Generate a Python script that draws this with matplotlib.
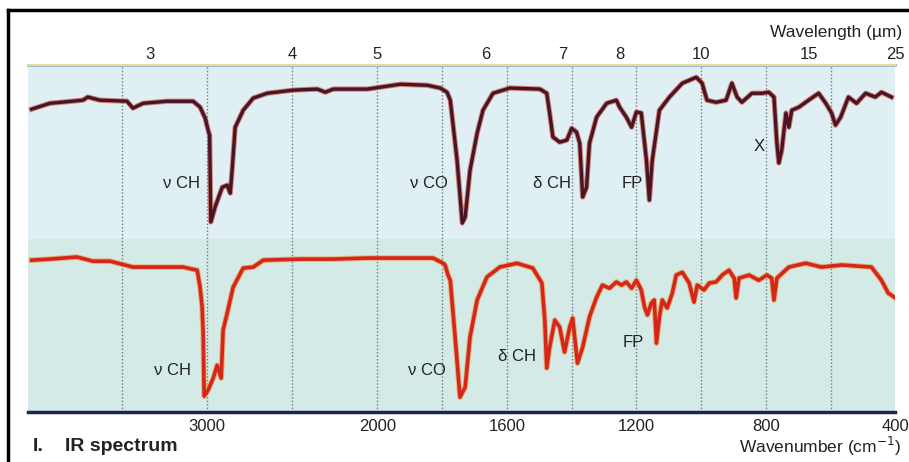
import matplotlib.pyplot as plt
import numpy as np

# upper spectrum (dark trace): wavenumber (cm-1) and offset transmittance
upper_wn = [4030, 3923, 3729, 3700, 3629, 3470, 3435, 3376, 3235, 3082, 3041, 3011, 2994, 2985,
            2978, 2953, 2911, 2882, 2864, 2853, 2835, 2788, 2729, 2647, 2494, 2353, 2306, 2259,
            2059, 1929, 1846, 1806, 1785, 1775, 1754, 1738, 1729, 1714, 1692, 1674, 1643, 1591,
            1498, 1477, 1468, 1458, 1437, 1415, 1400, 1385, 1375, 1366, 1354, 1345, 1323, 1292,
            1262, 1252, 1231, 1215, 1200, 1185, 1169, 1160, 1151, 1129, 1098, 1058, 1015, 997,
            982, 954, 923, 905, 889, 874, 843, 812, 791, 775, 766, 760, 751, 738, 729, 720,
            698, 668, 637, 615, 597, 585, 569, 545, 520, 492, 462, 443, 412]
upper_t = [87.3, 89.0, 89.9, 90.8, 89.9, 89.6, 87.6, 89.0, 89.6, 89.6, 87.9, 84.7, 81.3, 79.8,
           54.8, 59.1, 64.8, 65.4, 63.1, 69.7, 82.1, 87.0, 90.5, 91.9, 92.8, 93.1, 92.2, 93.1,
           93.1, 94.5, 94.2, 93.4, 92.2, 89.9, 72.6, 54.5, 56.2, 69.7, 80.4, 87.0, 91.9, 93.4,
           93.1, 91.9, 86.2, 79.3, 77.8, 78.4, 81.8, 80.7, 77.5, 62.0, 64.8, 77.5, 85.0, 89.0,
           89.9, 87.9, 85.0, 82.1, 86.5, 86.2, 72.6, 61.1, 72.6, 87.0, 90.8, 94.8, 96.5, 94.8,
           89.9, 89.3, 89.9, 94.8, 90.8, 89.3, 91.9, 91.9, 92.2, 90.8, 77.5, 71.8, 75.5, 86.2, 82.1, 87.0,
           87.9, 89.9, 91.9, 89.0, 86.2, 82.7, 85.0, 90.8, 89.0, 91.9, 90.8, 92.2, 90.8]

# lower spectrum (red trace)
lower_wn = [4030, 3923, 3764, 3670, 3570, 3435, 3335, 3141, 3058, 3041, 3029, 3023, 3017, 2994,
            2964, 2941, 2917, 2906, 2882, 2847, 2788, 2729, 2670, 2453, 2259, 2059, 1828, 1797,
            1791, 1782, 1775, 1760, 1745, 1729, 1714, 1692, 1662, 1622, 1569, 1520, 1492, 1483,
            1477, 1468, 1452, 1437, 1422, 1406, 1397, 1382, 1366, 1345, 1323, 1305, 1283, 1262,
            1246, 1231, 1215, 1200, 1185, 1175, 1166, 1154, 1145, 1138, 1129, 1120, 1105, 1089,
            1077, 1058, 1037, 1022, 1012, 991, 975, 954, 935, 914, 898, 892, 883, 852, 822, 797,
            782, 775, 766, 729, 677, 628, 566, 474, 443, 422, 400]
lower_t = [43.8, 44.1, 44.7, 43.5, 43.5, 41.8, 41.8, 41.8, 40.9, 36.0, 30.3, 22.8, 4.6, 6.3,
           9.8, 13.5, 9.8, 23.6, 28.5, 36.0, 41.5, 41.8, 43.8, 44.1, 44.1, 44.4, 44.4, 42.9,
           42.4, 39.5, 38.0, 21.6, 4.3, 7.2, 21.6, 32.3, 38.9, 41.8, 42.9, 41.5, 37.2, 26.5,
           12.7, 18.7, 26.5, 24.5, 17.3, 24.5, 27.1, 14.1, 18.7, 27.4, 33.1, 36.6, 35.7, 37.5,
           36.6, 37.5, 35.7, 38.0, 35.2, 30.3, 28.0, 31.4, 32.3, 19.9, 27.4, 32.3, 30.0, 34.3,
           39.5, 40.3, 37.2, 31.7, 36.6, 35.2, 37.2, 37.5, 39.5, 40.9, 38.6, 32.9, 38.6, 39.5, 38.0, 39.5,
           38.6, 32.3, 38.6, 41.8, 42.9, 41.8, 42.4, 41.8, 38.0, 34.3, 32.9]

bottom_ticks = [3000, 2000, 1600, 1200, 800, 400]
grid_wn = [3500, 3000, 2500, 2000, 1800, 1600, 1400, 1200, 1000, 800, 600]
wavelength_um = [3, 4, 5, 6, 7, 8, 10, 15, 25]

# band labels: (text, wavenumber, value)
upper_labels = [("ν CH", 3150, 66), ("ν CO", 1840, 66), ("δ CH", 1460, 66),
                ("FP", 1212, 66), ("X", 822, 76.5)]
lower_labels = [("ν CH", 3205, 12), ("ν CO", 1846, 12), ("δ CH", 1569, 16),
                ("FP", 1209, 20)]

K = 1.9  # region below 2000 cm-1 is drawn expanded


def fwd(w):
    w = np.asarray(w, dtype=float)
    return np.where(w >= 2000, w, 2000 - (2000 - w) * K)


def inv(p):
    p = np.asarray(p, dtype=float)
    return np.where(p >= 2000, p, 2000 - (2000 - p) / K)


plt.rcParams['font.family'] = ['Liberation Sans', 'DejaVu Sans']

fig = plt.figure(figsize=(9.09, 4.62), dpi=100)
ax = fig.add_axes([0.031, 0.108, 0.954, 0.751])
ax.set_xscale('function', functions=(fwd, inv))
ax.set_xlim(4050, 400)
ax.set_ylim(0, 100)
ax.set_facecolor('#dfeff3')
ax.axhspan(0, 50, color='#d3eae7', zorder=0, lw=0)

for g in grid_wn:
    ax.axvline(g, color='#6f7a80', lw=1.0, ls=(0, (1, 1.5)), zorder=1)

ax.plot(upper_wn, upper_t, color='#c0402a', lw=3.8, alpha=0.6, zorder=2, solid_joinstyle='round')
ax.plot(upper_wn, upper_t, color='#4a1424', lw=2.4, zorder=3, solid_joinstyle='round')
ax.plot(lower_wn, lower_t, color='#f08a30', lw=4.0, alpha=0.6, zorder=2, solid_joinstyle='round')
ax.plot(lower_wn, lower_t, color='#d4261a', lw=2.6, zorder=3, solid_joinstyle='round')

for txt, w, v in upper_labels + lower_labels:
    ax.text(w, v, txt, fontsize=12, ha='center', va='center', color='#222222', zorder=4)

for s in ['left', 'right']:
    ax.spines[s].set_visible(False)
ax.spines['top'].set_color('#8ab6d8')
ax.spines['top'].set_linewidth(2)
ax.spines['bottom'].set_color('#1c2450')
ax.spines['bottom'].set_linewidth(2.5)
ax.set_yticks([])
ax.set_xticks(bottom_ticks)
ax.set_xticklabels([str(t) for t in bottom_ticks], fontsize=12, color='#222222')
ax.xaxis.set_minor_locator(plt.NullLocator())
ax.tick_params(axis='x', length=0, pad=5)

ax2 = ax.twiny()
ax2.set_xscale('function', functions=(fwd, inv))
ax2.set_xlim(ax.get_xlim())
ax2.set_xticks([10000 / u for u in wavelength_um])
ax2.set_xticklabels([str(u) for u in wavelength_um], fontsize=12, color='#222222')
ax2.xaxis.set_minor_locator(plt.NullLocator())
ax2.tick_params(axis='x', length=0, pad=2)
for s in ax2.spines.values():
    s.set_visible(False)
ax2.spines['top'].set_visible(True)
ax2.spines['top'].set_color('#e8dc98')
ax2.spines['top'].set_linewidth(1.5)
ax2.set_yticks([])

fig.text(0.992, 0.93, "Wavelength (µm)", fontsize=12.5, ha='right', va='center', color='#222222')
fig.text(0.992, 0.033, "Wavenumber (cm$^{-1}$)", fontsize=12.5, ha='right', va='center', color='#222222')
fig.text(0.036, 0.033, "I.", fontsize=14, fontweight='bold', ha='left', va='center', color='#222222')
fig.text(0.071, 0.033, "IR spectrum", fontsize=14, fontweight='bold', ha='left', va='center', color='#222222')

# scan frame
fig.add_artist(plt.Line2D([0.009, 0.009], [0, 0.978], color='black', lw=2.5))
fig.add_artist(plt.Line2D([0.009, 1.0], [0.978, 0.978], color='black', lw=2.5))

fig.savefig('out.png', dpi=100)
